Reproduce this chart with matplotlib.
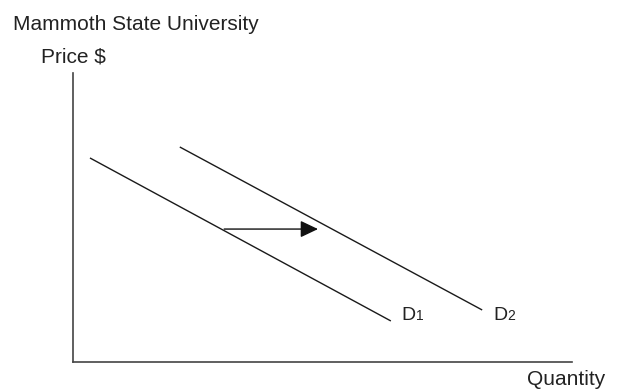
import matplotlib.pyplot as plt

plt.rcParams['font.family'] = ['Liberation Sans', 'DejaVu Sans']

# demand curves as (quantity, price) endpoints
d1_q = [0.34, 6.37]
d1_p = [7.06, 1.42]
d2_q = [2.14, 8.20]
d2_p = [7.44, 1.80]
# shift arrow
shift_q = [3.03, 4.91]
shift_p = 4.60
labels = ['D1', 'D2']

fig = plt.figure(figsize=(6.21, 3.90), dpi=100)
ax = fig.add_axes([73/621, 28/390, 499/621, 289/390])
ax.set_xlim(0, 10)
ax.set_ylim(0, 10)

ax.plot(d1_q, d1_p, color='#1a1a1a', lw=1.0, solid_capstyle='butt')
ax.plot(d2_q, d2_p, color='#1a1a1a', lw=1.0, solid_capstyle='butt')

ax.annotate('', xy=(shift_q[1], shift_p), xytext=(shift_q[0], shift_p),
            arrowprops=dict(arrowstyle='-|>,head_length=0.4,head_width=0.19',
                            color='#111111', lw=1.0,
                            mutation_scale=27, shrinkA=0, shrinkB=0))

# curve labels: big letter, smaller digit on the same baseline
for q_end, lab in zip([d1_q[1], d2_q[1]], labels):
    ax.text(q_end + 0.22, 1.45, lab[0], fontsize=14, ha='left', va='baseline', color='#222222')
    ax.annotate(lab[1:], xy=(q_end + 0.22, 1.45), xytext=(10.2, 0), textcoords='offset points',
                fontsize=10, ha='left', va='baseline', color='#222222')

for side in ['top', 'right']:
    ax.spines[side].set_visible(False)
for side in ['left', 'bottom']:
    ax.spines[side].set_color('#444444')
    ax.spines[side].set_linewidth(1.2)
ax.set_xticks([])
ax.set_yticks([])

fig.text(13/621, 1 - 30/390, 'Mammoth State University', fontsize=15, ha='left', va='baseline', color='#222222')
fig.text(41/621, 1 - 63/390, 'Price $', fontsize=15, ha='left', va='baseline', color='#222222')
fig.text(527/621, 1 - 385/390, 'Quantity', fontsize=15, ha='left', va='baseline', color='#222222')

fig.savefig('out.png', dpi=100)
